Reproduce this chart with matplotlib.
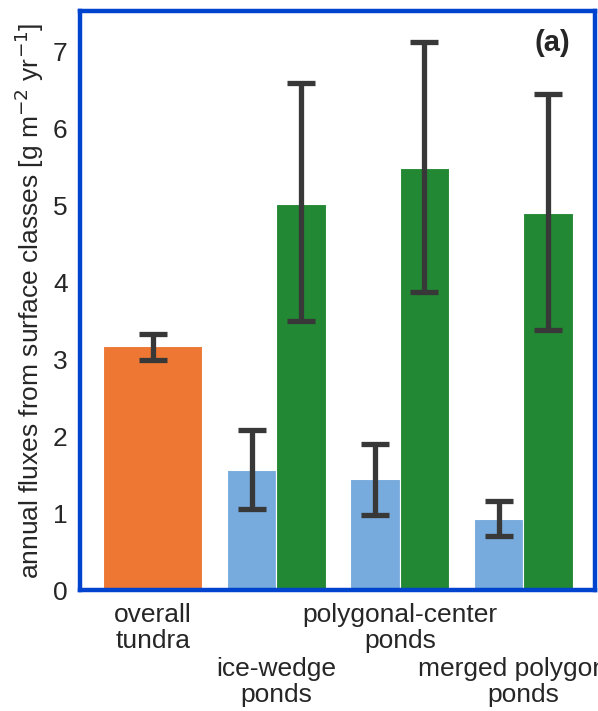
import numpy as np
import matplotlib.pyplot as plt

plt.rcParams['font.family'] = ['Liberation Sans', 'DejaVu Sans']

# data
classes = ['overall\ntundra', 'ice-wedge\nponds', 'polygonal-center\nponds', 'merged polygonal\nponds']
tundra_val = 3.17
tundra_err = (2.99, 3.32)
blue_val = [1.56, 1.44, 0.92]
blue_lo = [1.05, 0.97, 0.70]
blue_hi = [2.08, 1.90, 1.16]
green_val = [5.02, 5.48, 4.90]
green_lo = [3.49, 3.87, 3.38]
green_hi = [6.58, 7.12, 6.44]

c_orange = '#EE7733'
c_blue = '#77AADD'
c_green = '#228833'
c_err = '#383838'
c_spine = '#0043CE'
c_text = '#262626'

fig = plt.figure(figsize=(5.98, 7.11), dpi=100)
ax = fig.add_axes([0.1338, 0.170, 0.861, 0.8145])

x = np.arange(len(classes))
ekw = dict(ecolor=c_err, elinewidth=3.8, capsize=10, capthick=3.8)

ax.bar(0, tundra_val, width=0.8, color=c_orange, edgecolor='white', linewidth=0.8,
       yerr=[[tundra_val - tundra_err[0]], [tundra_err[1] - tundra_val]], error_kw=ekw, zorder=2)

bv = np.array(blue_val)
gv = np.array(green_val)
ax.bar(x[1:] - 0.2, bv, width=0.4, color=c_blue, edgecolor='white', linewidth=0.8,
       yerr=[bv - np.array(blue_lo), np.array(blue_hi) - bv], error_kw=ekw, zorder=2)
ax.bar(x[1:] + 0.2, gv, width=0.4, color=c_green, edgecolor='white', linewidth=0.8,
       yerr=[gv - np.array(green_lo), np.array(green_hi) - gv], error_kw=ekw, zorder=2)

ax.set_xlim(-0.59, 3.58)
ax.set_ylim(0, 7.52)
# labels alternate between two rows
ax.set_xticks(x[0::2], labels=classes[0::2])
ax.set_xticks(x[1::2], labels=classes[1::2], minor=True)
for lbl in ax.get_xticklabels(which='both'):
    lbl.set_linespacing(1.14)
ax.tick_params(axis='x', which='both', length=0, labelsize=19, labelcolor=c_text)
ax.tick_params(axis='x', which='major', pad=9)
ax.tick_params(axis='x', which='minor', pad=48)
ax.set_yticks(range(8))
ax.tick_params(axis='y', length=0, pad=9, labelsize=19, labelcolor=c_text)
ax.set_ylabel('annual fluxes from surface classes [g m$^{-2}$ yr$^{-1}$]', fontsize=19, color=c_text, labelpad=5)

for s in ax.spines.values():
    s.set_color(c_spine)
    s.set_linewidth(3.2)
    s.set_zorder(3)

ax.text(0.953, 0.969, '(a)', transform=ax.transAxes, fontsize=21, fontweight='bold',
        color=c_text, ha='right', va='top')

fig.savefig('out.png', dpi=100)
